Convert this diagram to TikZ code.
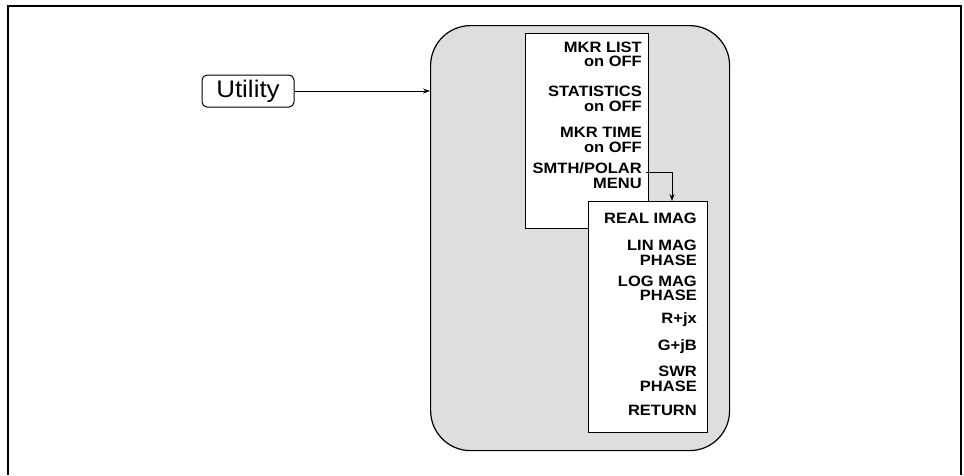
\documentclass[tikz,border=0pt]{standalone}
\usepackage{fontspec}
\setmainfont{Liberation Sans}
\newfontfamily\keyfont[FakeStretch=1.1]{Liberation Sans}
\newfontfamily\hardfont[FakeStretch=1.08]{Liberation Sans}
\usetikzlibrary{arrows.meta}
\begin{document}
\begin{tikzpicture}[x=1pt,y=-1pt,
  frame/.style={line width=1.6pt},
  panel/.style={draw, line width=1.2pt, fill=black!13, rounded corners=40pt, inner sep=0pt, anchor=north west},
  menubox/.style={draw, line width=1.2pt, fill=white, inner sep=0pt, anchor=north west},
  key/.style={font=\keyfont\fontsize{15}{14.5}\selectfont\bfseries, align=right, anchor=east, inner sep=0pt},
  hardkey/.style={draw, line width=1pt, rounded corners=5pt, font=\hardfont\fontsize{24}{24}\selectfont, minimum width=92pt, minimum height=32pt, inner sep=0pt},
  link/.style={line width=0.8pt, -{Stealth[length=7pt,width=5pt]}}
]
\useasboundingbox (0,0) rectangle (964,475);
\draw[frame] (8,475) -- (8,6) -- (961,6) -- (961,475);

\node[panel, minimum width=299pt, minimum height=425pt] (panel) at (430,25) {};
\node[menubox, minimum width=123pt, minimum height=195pt] (menuA) at (525,33) {};
\node[menubox, minimum width=119pt, minimum height=231pt] (menuB) at (588,201) {};

\node[key] (kMkrList) at (642,54.5) {MKR LIST\\on OFF};
\node[key] (kStat) at (642,99) {STATISTICS\\on OFF};
\node[key] (kMkrTime) at (642,140) {MKR TIME\\on OFF};
\node[key] (kSmth) at (642,175.5) {SMTH/POLAR\\MENU};

\node[key] (kReal) at (697,218) {REAL IMAG};
\node[key] (kLin) at (697,253) {LIN MAG\\PHASE};
\node[key] (kLog) at (697,288.5) {LOG MAG\\PHASE};
\node[key] (kRjx) at (697,320) {R+jx};
\node[key] (kGjb) at (697,347) {G+jB};
\node[key] (kSwr) at (697,379) {SWR\\PHASE};
\node[key] (kRet) at (697,410) {RETURN};

\node[hardkey] (utility) at (248,91) {Utility};
\draw[link] (utility.east) -- (panel.west |- utility.east);

\coordinate (smthOut) at (646,172);
\coordinate (drop) at (672,201);
\draw[link] (smthOut) -| (drop);
\end{tikzpicture}
\end{document}
